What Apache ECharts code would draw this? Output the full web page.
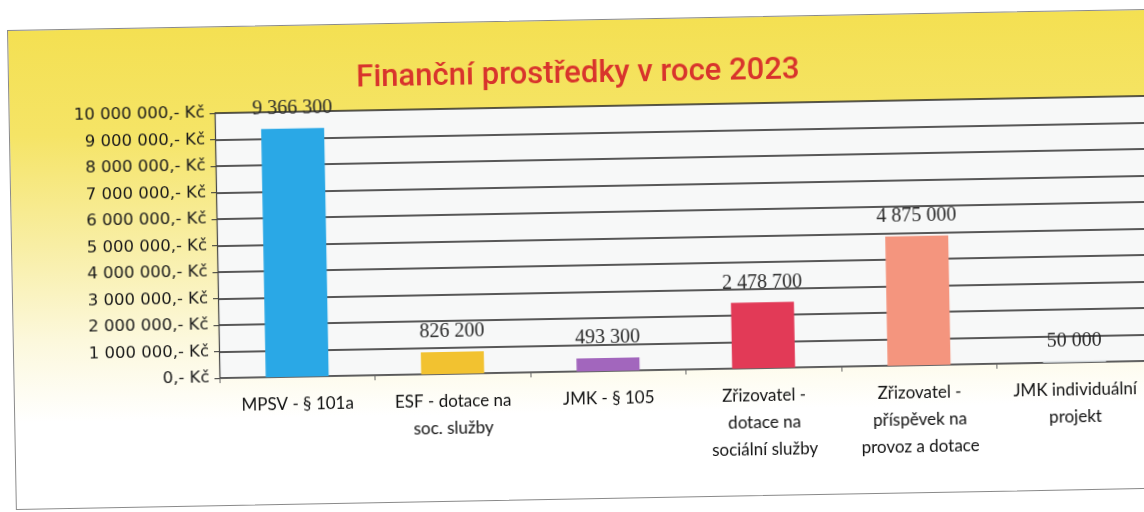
<!DOCTYPE html>
<html>
<head>
<meta charset="utf-8">
<script src="https://cdn.jsdelivr.net/npm/echarts@6/dist/echarts.min.js"></script>
<style>
  html, body { margin: 0; padding: 0; background: #fff; width: 1144px; height: 512px; overflow: hidden; }
  .frame {
    position: absolute;
    left: 7px;
    top: 30px;
    width: 1138px;
    height: 478px;
    border: 1.5px solid #8a8a8a;
    transform: rotate(-1.06deg);
    transform-origin: 0 0;
    background: linear-gradient(to bottom, #f4e052 0%, #f5e466 22%, #f8eea4 45%, #fcf8dc 65%, #ffffff 82%);
  }
  #chart { width: 100%; height: 100%; }
</style>
</head>
<body>
<div class="frame"><div id="chart"></div></div>
<script>
// hodnoty z grafu
const categories = [
  'MPSV - § 101a',
  'ESF - dotace na\nsoc. služby',
  'JMK - § 105',
  'Zřizovatel -\ndotace na\nsociální služby',
  'Zřizovatel -\npříspěvek na\nprovoz a dotace',
  'JMK individuální\nprojekt'
]
const amounts = [9366300, 826200, 493300, 2478700, 4875000, 50000]
const barColors = ['#2aa8e6', '#f2c230', '#a266bd', '#e23a57', '#f4957e', '#c9cfd3']
const yTicks = [0, 1000000, 2000000, 3000000, 4000000, 5000000, 6000000, 7000000, 8000000, 9000000, 10000000]

// mezery mezi tisíci
const groupDigits = (v) => String(v).replace(/\B(?=(\d{3})+(?!\d))/g, ' ')

const chart = echarts.init(document.getElementById('chart'))

const option = {
  animation: false,
  title: {
    text: 'Finanční prostředky v roce 2023',
    left: 'center',
    top: 34,
    textStyle: {
      fontFamily: 'Roboto',
      fontSize: 31,
      fontWeight: 500,
      color: '#d8342c'
    }
  },
  grid: {
    left: 205,
    right: 0,
    top: 86,
    height: 265,
    show: true,
    backgroundColor: '#f7f8f8',
    borderWidth: 0
  },
  xAxis: {
    type: 'category',
    data: categories,
    axisLine: { lineStyle: { color: '#666', width: 1.2 } },
    axisTick: { show: true, length: 5, lineStyle: { color: '#666' } },
    axisLabel: {
      margin: 14,
      interval: 0,
      fontFamily: 'Lato',
      fontSize: 17,
      lineHeight: 27,
      color: '#111'
    }
  },
  yAxis: {
    type: 'value',
    min: yTicks[0],
    max: yTicks[yTicks.length - 1],
    interval: yTicks[1] - yTicks[0],
    axisLine: { show: true, lineStyle: { color: '#444', width: 1.2 } },
    axisTick: { show: true, length: 5, lineStyle: { color: '#333' } },
    splitLine: { lineStyle: { color: '#222', width: 1.5 } },
    axisLabel: {
      margin: 10,
      fontFamily: 'DejaVu Sans',
      fontSize: 16.5,
      color: '#1a1a1a',
      formatter: (v) => groupDigits(v) + ',- Kč'
    }
  },
  series: [
    {
      type: 'bar',
      barWidth: 63,
      data: amounts.map((v, i) => ({ value: v, itemStyle: { color: barColors[i] } })),
      label: {
        show: true,
        position: 'top',
        distance: 10,
        fontFamily: 'Liberation Serif',
        fontSize: 20,
        color: '#2a2a2a',
        formatter: (p) => groupDigits(p.value)
      }
    }
  ]
}

chart.setOption(option)
</script>
</body>
</html>
